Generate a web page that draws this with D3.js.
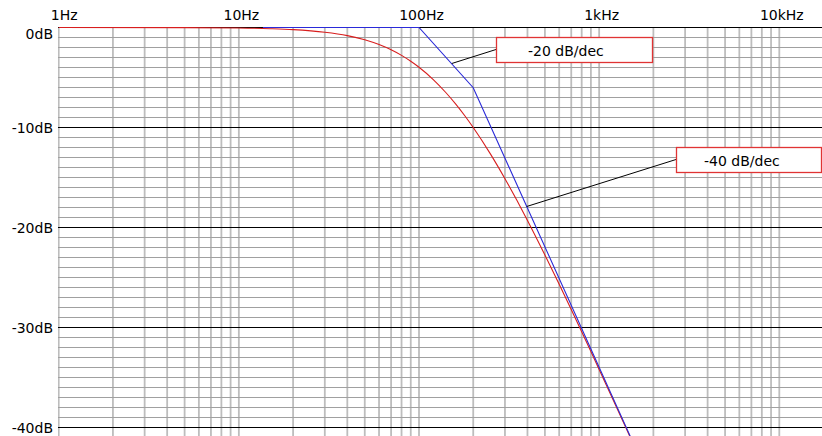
<!DOCTYPE html>
<meta charset="utf-8">
<script src="https://d3js.org/d3.v7.min.js"></script>
<style>
    body { margin: 0; background: #fff; }
    text { font-family: "DejaVu Sans", sans-serif; font-size: 14px; fill: #000; }
</style>
<body>
<div id="my_dataviz"></div>
</body>
<script>
    // frequency axis labels (Hz) and dB ticks
    const freqTicks = [1, 10, 100, 1000, 10000];
    const freqLabels = ["1Hz", "10Hz", "100Hz", "1kHz", "10kHz"];
    const dbTicks = [0, -10, -20, -30, -40];
    const dbLabels = ["0dB", "-10dB", "-20dB", "-30dB", "-40dB"];

    const redFreq = [1, 5, 10, 15, 20, 30, 40, 50, 60, 70, 80, 90, 100, 120, 140, 160, 180, 200,
        250, 300, 350, 400, 500, 600, 700, 800, 900, 1000, 1200, 1400, 1600];
    const redDb = [0, -0.01, -0.05, -0.12, -0.21, -0.47, -0.81, -1.23, -1.71, -2.23, -2.79, -3.38, -3.98,
        -5.21, -6.45, -7.66, -8.85, -10.0, -12.69, -15.12, -17.31, -19.29, -22.75, -25.68, -28.21,
        -30.43, -32.41, -34.19, -37.29, -39.93, -42.23];

    // asymptotes (blue)
    const blueFreq = [13.6, 100, 200, 1600];
    const blueDb = [0, 0, -6.02, -42.14];

    // annotations: text and the point on the blue line they point to
    const noteText = ["-20 dB/dec", "-40 dB/dec"];
    const noteFreq = [152, 396];
    const noteDb = [-3.6, -17.9];

    const W = 822, H = 436;
    var svg = d3.select("#my_dataviz")
        .append("svg")
        .attr("width", W)
        .attr("height", H);

    var x = d3.scaleLog()
        .domain([1, 10000])
        .range([58.7, 779.3]);
    var y = d3.scaleLinear()
        .domain([0, -40])
        .range([27.5, 427.5]);

    var plotLeft = 58, plotTop = 27;

    svg.append("clipPath")
        .attr("id", "plotclip")
        .append("rect")
        .attr("x", plotLeft)
        .attr("y", plotTop)
        .attr("width", W - plotLeft)
        .attr("height", H - plotTop);

    var plot = svg.append("g").attr("clip-path", "url(#plotclip)");

    // vertical grid: 1..9 per decade
    var vLines = [];
    for (let k = 0; k < 4; k++) {
        for (let m = 1; m < 10; m++) vLines.push(m * Math.pow(10, k));
    }
    vLines.push(10000);
    plot.selectAll(".vgrid")
        .data(vLines)
        .enter()
        .append("line")
        .attr("x1", d => x(d))
        .attr("x2", d => x(d))
        .attr("y1", plotTop)
        .attr("y2", H)
        .style("stroke", "#bdbdbd")
        .style("stroke-width", 1.8);

    // horizontal grid every 1dB, black every 10dB
    var hLines = d3.range(0, -42, -1);
    plot.selectAll(".hgrid")
        .data(hLines)
        .enter()
        .append("line")
        .attr("x1", plotLeft)
        .attr("x2", W)
        .attr("y1", d => y(d))
        .attr("y2", d => y(d))
        .style("stroke", d => d % 10 === 0 ? "#000" : "#a0a0a0")
        .style("stroke-width", 1);

    var line = d3.line()
        .x(d => x(d[0]))
        .y(d => y(d[1]))
        .curve(d3.curveMonotoneX);

    plot.append("path")
        .datum(redFreq.map((f, i) => [f, redDb[i]]))
        .attr("d", line)
        .style("fill", "none")
        .style("stroke", "#d81e1e")
        .style("stroke-width", 1.1);

    plot.append("path")
        .datum(blueFreq.map((f, i) => [f, blueDb[i]]))
        .attr("d", d3.line().x(d => x(d[0])).y(d => y(d[1])))
        .style("fill", "none")
        .style("stroke", "#2a2ad8")
        .style("stroke-width", 1.1);

    // axis labels
    svg.append("g")
        .attr("transform", "translate(0,20)")
        .call(d3.axisTop(x).tickValues(freqTicks).tickSize(0).tickPadding(0)
            .tickFormat((d, i) => freqLabels[i]))
        .call(g => g.select(".domain").remove())
        .selectAll("text")
        .attr("dx", d => d === 1 ? 5 : 2)
        .attr("y", 0)
        .attr("dy", 0)
        .style("font-family", "DejaVu Sans")
        .style("font-size", "14px");

    // the top label sits just below the border
    svg.append("g")
        .attr("transform", "translate(53,0)")
        .call(d3.axisLeft(y).tickValues(dbTicks).tickSize(0).tickPadding(0)
            .tickFormat((d, i) => dbLabels[i]))
        .call(g => g.select(".domain").remove())
        .selectAll("text")
        .attr("dy", d => d === 0 ? "0.8em" : "0.36em")
        .style("font-family", "DejaVu Sans")
        .style("font-size", "14px");

    // annotation boxes with leader lines
    var boxes = [
        {x: 496, y: 37, w: 156, h: 25, tx: 32},
        {x: 676, y: 147, w: 145, h: 25, tx: 28}
    ];
    var notes = svg.selectAll(".note")
        .data(noteText)
        .enter()
        .append("g");
    notes.append("line")
        .attr("x1", (d, i) => x(noteFreq[i]))
        .attr("y1", (d, i) => y(noteDb[i]))
        .attr("x2", (d, i) => boxes[i].x)
        .attr("y2", (d, i) => boxes[i].y + boxes[i].h / 2)
        .style("stroke", "#000")
        .style("stroke-width", 1);
    notes.append("rect")
        .attr("x", (d, i) => boxes[i].x + 0.5)
        .attr("y", (d, i) => boxes[i].y + 0.5)
        .attr("width", (d, i) => boxes[i].w)
        .attr("height", (d, i) => boxes[i].h)
        .style("fill", "#fff")
        .style("stroke", "#e03434")
        .style("stroke-width", 1.3);
    notes.append("text")
        .attr("x", (d, i) => boxes[i].x + boxes[i].tx)
        .attr("y", (d, i) => boxes[i].y + 18.5)
        .text(d => d);
</script>
